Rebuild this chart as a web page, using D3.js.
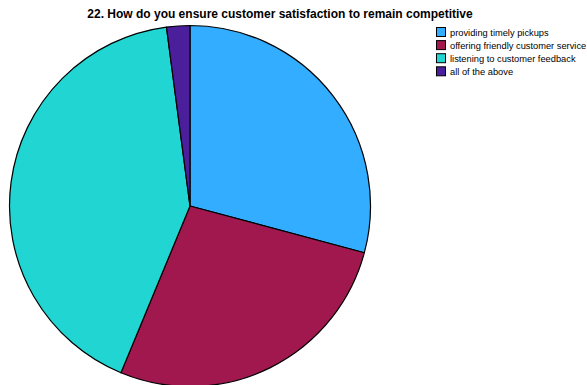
<!DOCTYPE html>
<html>
<head>
<meta charset="utf-8">
<script src="https://cdn.jsdelivr.net/npm/d3@7"></script>
<style>
  html, body { margin: 0; padding: 0; background: #fff; }
  svg { display: block; font-family: "Liberation Sans", Arial, sans-serif; }
</style>
</head>
<body>
<svg id="chart" width="587" height="385"></svg>
<script>
// Survey responses for question 22
const categories = [
  "providing timely pickups",
  "offering friendly customer service",
  "listening to customer feedback",
  "all of the above"
];
const counts = [14, 13, 20, 1];
const colors = ["#33adff", "#a0184e", "#21d6d2", "#4b1f9c"];
const title = "22. How do you ensure customer satisfaction to remain competitive";

const svg = d3.select("#chart");
const cx = 190, cy = 206, radius = 180.5;

svg.append("text")
  .attr("x", 280)
  .attr("y", 18)
  .attr("text-anchor", "middle")
  .attr("font-size", 12)
  .attr("font-weight", "bold")
  .attr("fill", "#000")
  .text(title);

const data = categories.map((c, i) => ({ category: c, value: counts[i], color: colors[i] }));

const pie = d3.pie().value(d => d.value).sort(null);
const arc = d3.arc().innerRadius(0).outerRadius(radius);

const g = svg.append("g").attr("transform", `translate(${cx},${cy})`);
g.selectAll("path")
  .data(pie(data))
  .join("path")
  .attr("d", arc)
  .attr("fill", d => d.data.color)
  .attr("stroke", "#000")
  .attr("stroke-width", 1.2)
  .attr("stroke-linejoin", "round");

// Legend
const legend = svg.append("g").attr("transform", "translate(436,27)");
const rowH = 13.1;
const rows = legend.selectAll("g")
  .data(data)
  .join("g")
  .attr("transform", (d, i) => `translate(0,${i * rowH})`);
rows.append("rect")
  .attr("x", 0.5).attr("y", 0.5)
  .attr("width", 9).attr("height", 9)
  .attr("fill", d => d.color)
  .attr("stroke", "#000")
  .attr("stroke-width", 1);
rows.append("text")
  .attr("x", 14)
  .attr("y", 8.5)
  .attr("font-size", 9.3)
  .attr("fill", "#000")
  .text(d => d.category);
</script>
</body>
</html>
